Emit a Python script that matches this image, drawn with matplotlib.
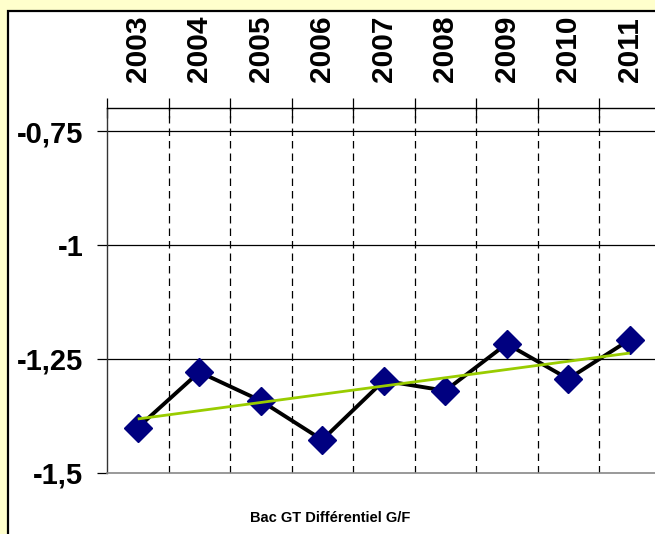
import numpy as np
import matplotlib
matplotlib.use('Agg')
import matplotlib.pyplot as plt
from matplotlib.patches import Rectangle

plt.rcParams['font.family'] = ['Liberation Sans', 'DejaVu Sans']

# data
years = ['2003', '2004', '2005', '2006', '2007', '2008', '2009', '2010', '2011']
values = [-1.401, -1.279, -1.342, -1.428, -1.298, -1.320, -1.217, -1.294, -1.208]
y_ticks = [-1.5, -1.25, -1.0, -0.75]
y_labels = ['-1,5', '-1,25', '-1', '-0,75']
title = 'Bac GT Différentiel G/F'

fig = plt.figure(figsize=(6.55, 5.34), dpi=100)
fig.patch.set_facecolor('#FFFFCC')

# white chart panel with black frame
panel = Rectangle((8 / 655, -0.05), 1.2, 0.05 + 1 - 11 / 534,
                  transform=fig.transFigure, facecolor='white',
                  edgecolor='black', linewidth=1.6, zorder=-5)
fig.patches.append(panel)

ax = fig.add_axes([107 / 655, 61.3 / 534, 553.5 / 655, 364.4 / 534])
ax.set_facecolor('white')

x = np.arange(len(years))
ax.set_xlim(-0.5, len(years) - 0.5)
ax.set_ylim(-1.5, -0.70)

# vertical dashed grid at category boundaries
for b in np.arange(0.5, len(years) - 0.5, 1):
    ax.axvline(b, color='black', lw=0.9, dashes=(6, 4), zorder=1)
# horizontal grid
for yv in y_ticks[1:]:
    ax.axhline(yv, color='black', lw=0.9, zorder=1)

ax.plot(x, values, color='black', lw=2.8, marker='D', markersize=14.5,
        markerfacecolor='#000080', markeredgecolor='#000080', zorder=3)

slope, intercept = np.polyfit(x, values, 1)
ax.plot([x[0], x[-1]], [intercept, slope * x[-1] + intercept],
        color='#99CC00', lw=2, zorder=4, solid_capstyle='butt')

# x axis on top: tick marks at boundaries, labels at centers
ax.xaxis.tick_top()
ax.set_xticks(np.arange(-0.5, len(years), 1))
ax.set_xticklabels([])
ax.set_xticks(x, minor=True)
ax.set_xticklabels(years, minor=True, rotation=90, fontsize=21.5,
                   fontweight='bold')
ax.tick_params(axis='x', which='major', direction='inout', length=15,
               width=0.9, top=True, bottom=False)
ax.tick_params(axis='x', which='minor', length=0, pad=19, top=True,
               bottom=False)

ax.set_yticks(y_ticks)
ax.set_yticklabels(y_labels, fontsize=21, fontweight='bold')
ax.tick_params(axis='y', direction='out', length=7, width=0.9, pad=10)

ax.spines['top'].set_linewidth(1.0)
ax.spines['left'].set_linewidth(1.0)
ax.spines['left'].set_color('#333333')
ax.spines['bottom'].set_color('#888888')
ax.spines['bottom'].set_linewidth(1.2)
ax.spines['right'].set_visible(False)

fig.text(330 / 655, 1 - 518 / 534, title, ha='center', va='center',
         fontsize=10.5, fontweight='bold')

fig.savefig('out.png', dpi=100, facecolor=fig.get_facecolor())
